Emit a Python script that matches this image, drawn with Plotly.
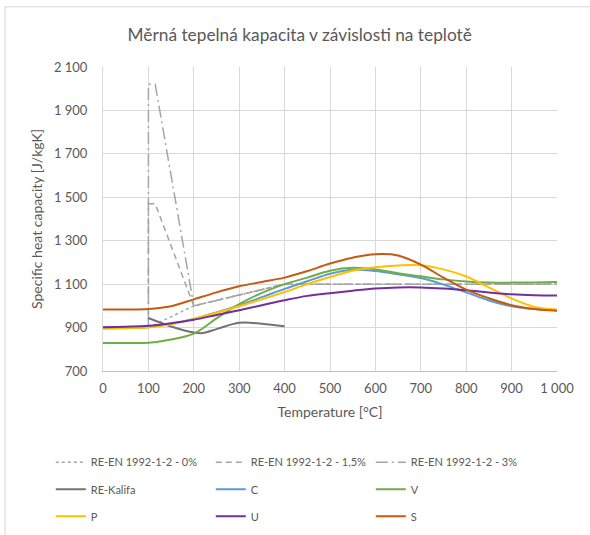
import plotly.graph_objects as go

# ---- data ----
en_x = [20, 100, 100, 115, 200, 400, 1000]
en0_x = [20, 100, 200, 400, 1000]
en0_y = [900, 900, 1000, 1100, 1100]
en15_y = [900, 900, 1470, 1470, 1000, 1100, 1100]
en3_y = [900, 900, 2020, 2020, 1000, 1100, 1100]

kal_x = [100, 150, 200, 220, 250, 300, 350, 400]
kal_y = [944, 905, 877, 875, 893, 922, 918, 906]

t = [0, 50, 100, 150, 200, 250, 300, 350, 400, 450, 500, 550, 600, 650, 700, 750, 800, 850, 900, 950, 1000]
c_y = [900, 902, 905, 918, 940, 970, 1003, 1040, 1078, 1113, 1148, 1166, 1160, 1145, 1128, 1098, 1062, 1025, 998, 985, 980]
v_y = [829, 829, 830, 845, 872, 942, 1008, 1060, 1100, 1130, 1162, 1175, 1168, 1150, 1136, 1122, 1112, 1107, 1107, 1108, 1110]
p_y = [895, 897, 900, 915, 940, 968, 998, 1030, 1064, 1100, 1133, 1162, 1178, 1186, 1187, 1168, 1135, 1085, 1034, 995, 983]
u_y = [902, 904, 908, 920, 936, 958, 980, 1003, 1026, 1046, 1058, 1070, 1080, 1085, 1085, 1080, 1072, 1062, 1053, 1049, 1048]
s_y = [983, 983, 985, 998, 1030, 1062, 1090, 1110, 1130, 1160, 1195, 1222, 1238, 1232, 1190, 1130, 1075, 1035, 1003, 985, 977]

y_ticks = [700, 900, 1100, 1300, 1500, 1700, 1900, 2100]
x_ticks = [0, 100, 200, 300, 400, 500, 600, 700, 800, 900, 1000]

FONT = "Lato, 'Open Sans', sans-serif"
GREY = "#595959"

fig = go.Figure()

fig.add_trace(go.Scatter(x=en0_x, y=en0_y, name="RE-EN 1992-1-2 - 0%", mode="lines",
                         line=dict(color="#a5a5a5", width=1.5, dash="dot"), legend="legend"))
fig.add_trace(go.Scatter(x=en_x, y=en15_y, name="RE-EN 1992-1-2 - 1,5%", mode="lines",
                         line=dict(color="#a5a5a5", width=1.5, dash="6px,4px"), legend="legend"))
fig.add_trace(go.Scatter(x=en_x, y=en3_y, name="RE-EN 1992-1-2 - 3%", mode="lines",
                         line=dict(color="#a5a5a5", width=1.5, dash="12px,4px,2px,4px"), legend="legend"))

fig.add_trace(go.Scatter(x=kal_x, y=kal_y, name="RE-Kalifa", mode="lines", line_shape="spline",
                         line=dict(color="#767171", width=2), legend="legend2"))
fig.add_trace(go.Scatter(x=t, y=c_y, name="C", mode="lines", line_shape="spline",
                         line=dict(color="#5b9bd5", width=2), legend="legend2"))
fig.add_trace(go.Scatter(x=t, y=v_y, name="V", mode="lines", line_shape="spline",
                         line=dict(color="#70ad47", width=2), legend="legend2"))
fig.add_trace(go.Scatter(x=t, y=p_y, name="P", mode="lines", line_shape="spline",
                         line=dict(color="#ffc000", width=2), legend="legend3"))
fig.add_trace(go.Scatter(x=t, y=u_y, name="U", mode="lines", line_shape="spline",
                         line=dict(color="#7030a0", width=2), legend="legend3"))
fig.add_trace(go.Scatter(x=t, y=s_y, name="S", mode="lines", line_shape="spline",
                         line=dict(color="#c55a11", width=2), legend="legend3"))

leg_common = dict(orientation="h", entrywidth=115, entrywidthmode="pixels",
                  xanchor="left", yanchor="middle", x=-0.115,
                  font=dict(family=FONT, size=11, color=GREY), bgcolor="rgba(0,0,0,0)",
                  traceorder="normal")

fig.update_layout(
    width=590, height=535,
    margin=dict(l=103, r=33, t=67, b=164, autoexpand=False),
    paper_bgcolor="white", plot_bgcolor="white",
    separators=", ",
    title=dict(text="Měrná tepelná kapacita v závislosti na teplotě",
               font=dict(family=FONT, size=17.3, color=GREY),
               xref="container", yref="container", x=0.508, y=1 - 34.5 / 535,
               xanchor="center", yanchor="middle"),
    xaxis=dict(range=[0, 1000], tickvals=x_ticks, tickformat=",d",
               showgrid=True, gridcolor="#d9d9d9", gridwidth=1,
               showline=True, linecolor="#bfbfbf", linewidth=1, mirror=False,
               zeroline=False, ticks="", ticklabelstandoff=5,
               tickfont=dict(family=FONT, size=13, color=GREY),
               title=dict(text="Temperature [°C]", standoff=12,
                          font=dict(family=FONT, size=14, color=GREY))),
    yaxis=dict(range=[700, 2100], tickvals=y_ticks, tickformat=",d",
               showgrid=True, gridcolor="#d9d9d9", gridwidth=1,
               showline=True, linecolor="#d9d9d9", linewidth=1,
               zeroline=False, ticks="", ticklabelstandoff=12,
               tickfont=dict(family=FONT, size=13, color=GREY),
               title=dict(text="Specific heat capacity [J/kgK]", standoff=8,
                          font=dict(family=FONT, size=14, color=GREY))),
    legend=dict(**leg_common, y=-0.300),
    legend2=dict(**leg_common, y=-0.389),
    legend3=dict(**leg_common, y=-0.478),
    shapes=[
        dict(type="line", xref="paper", yref="paper", x0=(5.5 - 103.3) / 453.4, x1=1.2,
             y0=(370.7 - 6.5) / 304, y1=(370.7 - 6.5) / 304, line=dict(color="#d9d9d9", width=1)),
        dict(type="line", xref="paper", yref="paper", x0=(5.5 - 103.3) / 453.4, x1=(5.5 - 103.3) / 453.4,
             y0=(370.7 - 6.5) / 304, y1=-0.7, line=dict(color="#d9d9d9", width=1)),
    ],
)

fig.write_html("out.html")
